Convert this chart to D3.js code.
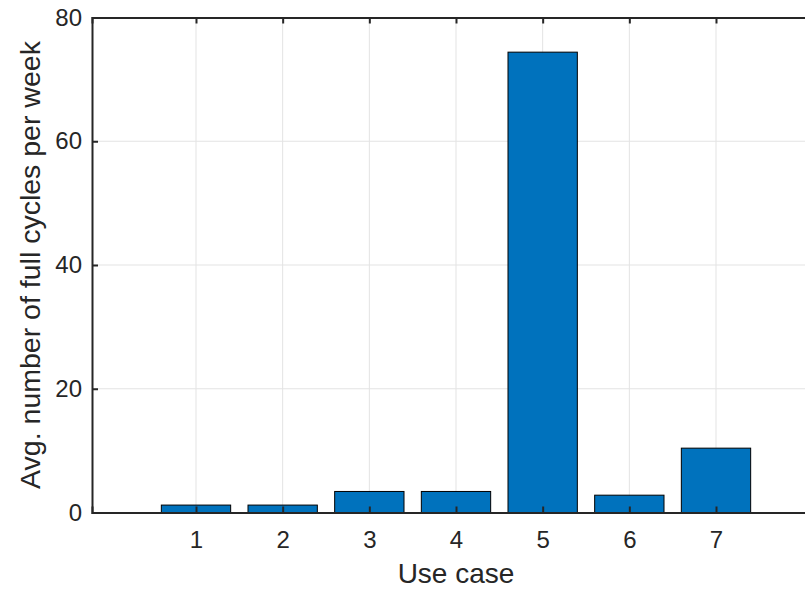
<!DOCTYPE html>
<html>
<head>
<meta charset="utf-8">
<script src="https://cdn.jsdelivr.net/npm/d3@7"></script>
<style>
  body { margin: 0; background: #fff; }
  text { font-family: "Liberation Sans", Arial, sans-serif; fill: #262626; }
</style>
</head>
<body>
<script>
const width = 805;
const height = 590;

// Data
const useCases = [1, 2, 3, 4, 5, 6, 7];
const cycles = [1.2, 1.2, 3.4, 3.4, 74.4, 2.8, 10.4];
const yTicks = [0, 20, 40, 60, 80];

const margin = {left: 92, top: 17.5, bottom: 77.5};
const plotRight = 820; // right edge falls outside the picture

const svg = d3.select("body")
  .append("svg")
  .attr("width", width)
  .attr("height", height);

const x = d3.scaleLinear()
  .domain([-0.2, 8.2])
  .range([margin.left, plotRight]);

const y = d3.scaleLinear()
  .domain([0, 80])
  .range([height - margin.bottom, margin.top]);

const barW = (x(1) - x(0)) * 0.8;

// Grid
svg.append("g")
  .selectAll("line.vgrid")
  .data(useCases)
  .enter()
  .append("line")
  .attr("x1", d => x(d)).attr("x2", d => x(d))
  .attr("y1", y(0)).attr("y2", y(80))
  .attr("stroke", "#e3e3e3")
  .attr("stroke-width", 1);

svg.append("g")
  .selectAll("line.hgrid")
  .data(yTicks)
  .enter()
  .append("line")
  .attr("x1", x.range()[0]).attr("x2", x.range()[1])
  .attr("y1", d => y(d)).attr("y2", d => y(d))
  .attr("stroke", "#e3e3e3")
  .attr("stroke-width", 1);

// Bars
svg.append("g")
  .selectAll("rect")
  .data(useCases)
  .enter()
  .append("rect")
  .attr("x", (d, i) => x(d) - barW / 2)
  .attr("y", (d, i) => y(cycles[i]))
  .attr("width", barW)
  .attr("height", (d, i) => y(0) - y(cycles[i]))
  .attr("fill", "#0072BD")
  .attr("stroke", "#000")
  .attr("stroke-width", 1);

// Axes (ticks pointing inward, MATLAB style)
const tickLen = 6;

const xAxis = svg.append("g")
  .attr("transform", `translate(0,${y(0)})`)
  .call(d3.axisBottom(x).tickValues(useCases).tickSize(-tickLen).tickPadding(18));

const xTop = svg.append("g")
  .attr("transform", `translate(0,${y(80)})`)
  .call(d3.axisTop(x).tickValues(useCases).tickSize(-tickLen).tickFormat(""));

const yAxis = svg.append("g")
  .attr("transform", `translate(${x.range()[0]},0)`)
  .call(d3.axisLeft(y).tickValues(yTicks).tickSize(-tickLen).tickPadding(10));

[xAxis, xTop, yAxis].forEach(g => {
  g.select(".domain").attr("stroke", "#262626").attr("stroke-width", 2);
  g.selectAll(".tick line").attr("stroke", "#262626").attr("stroke-width", 2);
  g.selectAll(".tick text")
    .attr("fill", "#262626")
    .style("font-size", "24px")
    .style("font-family", "'Liberation Sans', Arial, sans-serif");
});

// Axis labels
svg.append("text")
  .attr("x", x(4))
  .attr("y", 583)
  .attr("text-anchor", "middle")
  .style("font-size", "28px")
  .text("Use case");

svg.append("text")
  .attr("transform", `translate(40,${y(40)}) rotate(-90)`)
  .attr("text-anchor", "middle")
  .style("font-size", "28.5px")
  .text("Avg. number of full cycles per week");
</script>
</body>
</html>
